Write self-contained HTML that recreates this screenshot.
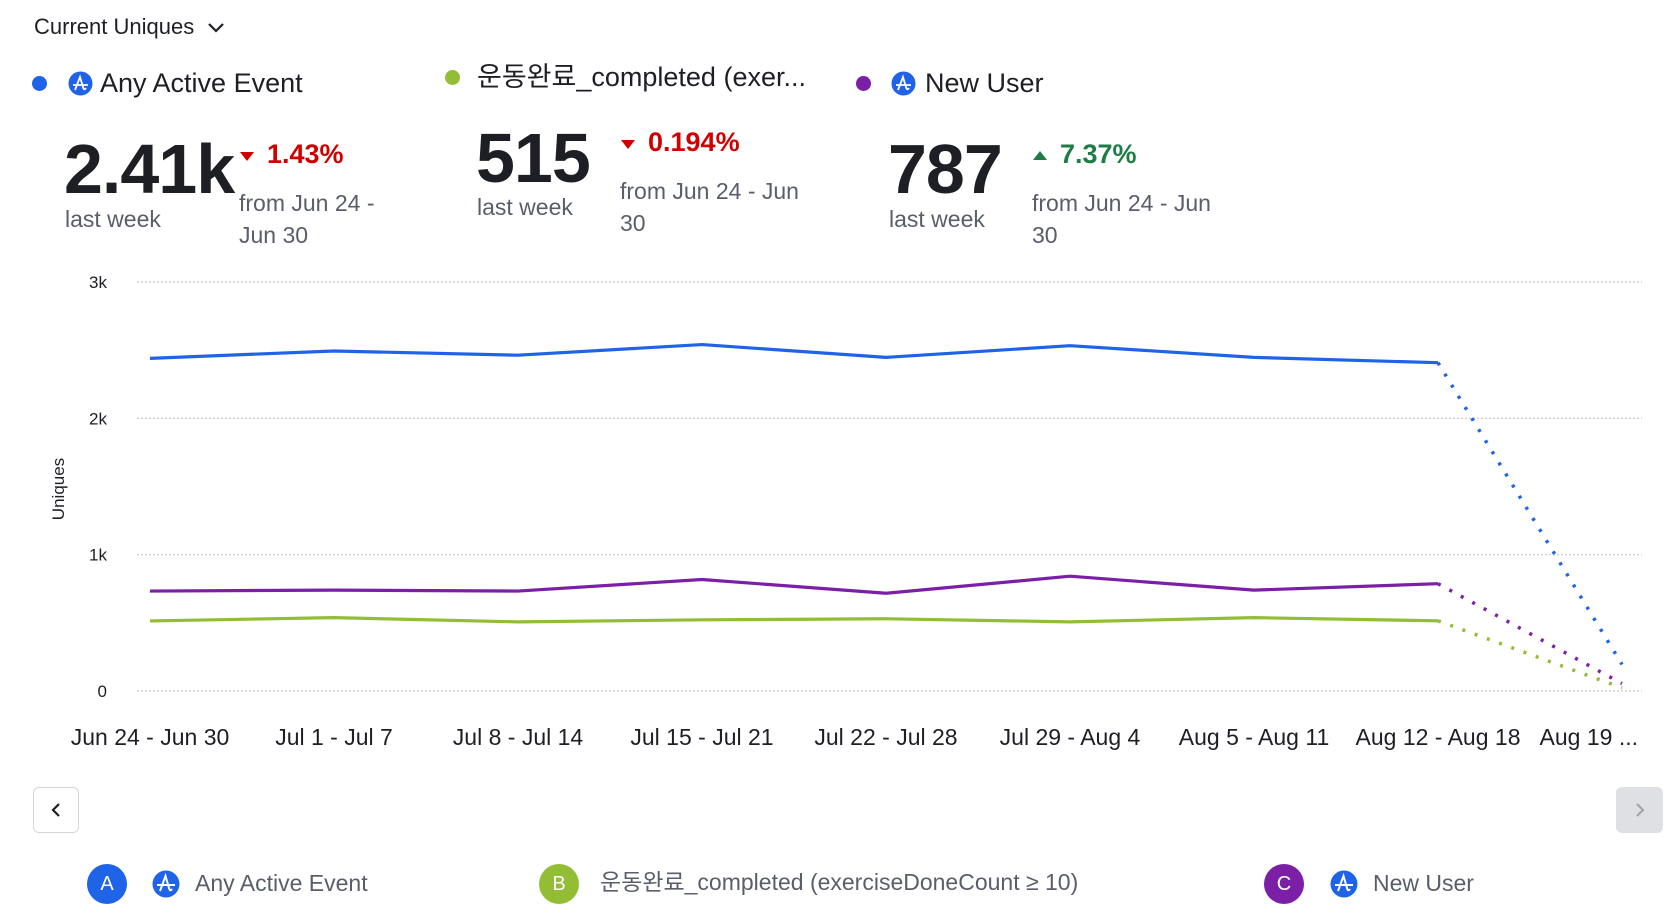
<!DOCTYPE html>
<html><head><meta charset="utf-8">
<style>
html,body{margin:0;padding:0;background:#fff;}
body{width:1666px;height:916px;position:relative;overflow:hidden;font-family:"Liberation Sans","Noto Sans CJK KR",sans-serif;color:#1e1f24;}
.a{position:absolute;white-space:nowrap;}
.dot{position:absolute;border-radius:50%;}
.big{font-size:70px;font-weight:bold;letter-spacing:-1px;line-height:1;}
.lw{font-size:23px;color:#5a5e6b;}
.from{font-size:23px;color:#5a5e6b;line-height:32px;}
.pct{font-size:27px;font-weight:bold;}
.tri{position:absolute;width:0;height:0;border-left:7px solid transparent;border-right:7px solid transparent;}
.leg{font-size:27px;color:#1e1f24;line-height:32px;height:32px;}
.bl{font-size:23px;color:#5a5e6b;line-height:28px;height:28px;}
.btn{position:absolute;border-radius:6px;box-sizing:border-box;}
</style></head><body>
<div class="a" style="left:34px;top:14px;font-size:22px;">Current Uniques <svg width="20" height="14" style="vertical-align:middle;margin-left:6px"><path d="M3 3 L10 10 L17 3" fill="none" stroke="#1e1f24" stroke-width="2.2"/></svg></div>

<!-- top legend -->
<div class="dot" style="left:32px;top:76px;width:15px;height:15px;background:#1f63e8"></div>
<svg class="a" style="left:68px;top:71px" width="25" height="25"><circle cx="12.5" cy="12.5" r="12" fill="#1f63e8"/><path d="M5 14 H20 M7 19 L12 6 L15 16 Q16 20 18 17" fill="none" stroke="#fff" stroke-width="1.8"/></svg>
<div class="a leg" style="left:100px;top:67px">Any Active Event</div>
<div class="dot" style="left:445px;top:70px;width:15px;height:15px;background:#93bd34"></div>
<div class="a leg" style="left:477px;top:61px">운동완료_completed (exer...</div>
<div class="dot" style="left:856px;top:76px;width:15px;height:15px;background:#7b1fa6"></div>
<svg class="a" style="left:891px;top:71px" width="25" height="25"><circle cx="12.5" cy="12.5" r="12" fill="#1f63e8"/><path d="M5 14 H20 M7 19 L12 6 L15 16 Q16 20 18 17" fill="none" stroke="#fff" stroke-width="1.8"/></svg>
<div class="a leg" style="left:925px;top:67px">New User</div>

<!-- cards -->
<div class="a big" style="left:64px;top:134px">2.41k</div>
<div class="a lw" style="left:65px;top:206px">last week</div>
<div class="tri" style="left:240px;top:152px;border-top:9px solid #d10000"></div>
<div class="a pct" style="left:267px;top:139px;color:#d10000">1.43%</div>
<div class="a from" style="left:239px;top:187px">from Jun 24 -<br>Jun 30</div>

<div class="a big" style="left:476px;top:123px">515</div>
<div class="a lw" style="left:477px;top:194px">last week</div>
<div class="tri" style="left:621px;top:140px;border-top:9px solid #d10000"></div>
<div class="a pct" style="left:648px;top:127px;color:#d10000">0.194%</div>
<div class="a from" style="left:620px;top:175px">from Jun 24 - Jun<br>30</div>

<div class="a big" style="left:888px;top:134px">787</div>
<div class="a lw" style="left:889px;top:206px">last week</div>
<div class="tri" style="left:1033px;top:151px;border-bottom:9px solid #1e7d46"></div>
<div class="a pct" style="left:1060px;top:139px;color:#1e7d46">7.37%</div>
<div class="a from" style="left:1032px;top:187px">from Jun 24 - Jun<br>30</div>

<svg id="chart" class="a" style="left:0;top:0" width="1666" height="916"></svg>

<div class="btn" style="left:33px;top:787px;width:46px;height:46px;border:1.5px solid #d4d6dc;background:#fff"><svg width="44" height="44"><path d="M25 16 L19 22 L25 28" fill="none" stroke="#1e1f24" stroke-width="2.2"/></svg></div>
<div class="btn" style="left:1616px;top:787px;width:47px;height:46px;background:#dfe0e4"><svg width="47" height="46"><path d="M21 17 L27 23 L21 29" fill="none" stroke="#a0a3ab" stroke-width="2"/></svg></div>

<!-- bottom legend -->
<div class="dot" style="left:87px;top:864px;width:40px;height:40px;background:#1f63e8;color:#fff;font-size:20px;text-align:center;line-height:40px">A</div>
<svg class="a" style="left:152px;top:870px" width="28" height="28"><circle cx="14" cy="14" r="13.5" fill="#1f63e8"/><path d="M5 15 H23 M8 21 L13.5 6 L17 18 Q18 22 20 19" fill="none" stroke="#fff" stroke-width="2"/></svg>
<div class="a bl" style="left:195px;top:869px">Any Active Event</div>
<div class="dot" style="left:539px;top:864px;width:40px;height:40px;background:#93bd34;color:#fff;font-size:20px;text-align:center;line-height:40px">B</div>
<div class="a bl" style="left:600px;top:868px">운동완료_completed (exerciseDoneCount ≥ 10)</div>
<div class="dot" style="left:1264px;top:864px;width:40px;height:40px;background:#7b1fa6;color:#fff;font-size:20px;text-align:center;line-height:40px">C</div>
<svg class="a" style="left:1330px;top:870px" width="28" height="28"><circle cx="14" cy="14" r="13.5" fill="#1f63e8"/><path d="M5 15 H23 M8 21 L13.5 6 L17 18 Q18 22 20 19" fill="none" stroke="#fff" stroke-width="2"/></svg>
<div class="a bl" style="left:1373px;top:869px">New User</div>

<script>
const categories = ["Jun 24 - Jun 30","Jul 1 - Jul 7","Jul 8 - Jul 14","Jul 15 - Jul 21","Jul 22 - Jul 28","Jul 29 - Aug 4","Aug 5 - Aug 11","Aug 12 - Aug 18","Aug 19 ..."];
const anyActive = [2440,2494,2463,2541,2447,2533,2447,2408,195];
const completed = [514,538,507,522,530,507,538,515,23];
const newUser = [733,740,733,818,717,842,740,787,55];
const yTicks = [0,1000,2000,3000];
const yTickLabels = ["0","1k","2k","3k"];

const NS="http://www.w3.org/2000/svg";
const svg=document.getElementById('chart');
const x0=150, xStep=184.0, yTop=282, yBot=691, yMax=3000;
const xs=i=>x0+i*xStep;
const ys=v=>yBot-(v/yMax)*(yBot-yTop);
function mk(tag,attrs){const e=document.createElementNS(NS,tag);for(const k in attrs)e.setAttribute(k,attrs[k]);svg.appendChild(e);return e;}

yTicks.forEach((t,i)=>{
  const g=mk('line',{x1:137,x2:1642,y1:ys(t),y2:ys(t),stroke:'#c4c6cc','stroke-width':1.2,'stroke-dasharray':'2 2'});
  
  
  const tx=mk('text',{x:107,y:ys(t)+6,'text-anchor':'end','font-size':17,fill:'#1e1f24','font-family':'Liberation Sans, sans-serif'});
  tx.textContent=yTickLabels[i];
  
  
});
const yt=mk('text',{x:0,y:0,transform:'translate(64,489) rotate(-90)','text-anchor':'middle','font-size':17,fill:'#1e1f24','font-family':'Liberation Sans, sans-serif'});
yt.textContent='Uniques';



categories.forEach((c,i)=>{
  const last=i===categories.length-1;
  const tx=mk('text',{x:last?1638:xs(i),y:745,'text-anchor':last?'end':'middle','font-size':23,fill:'#1e1f24','font-family':'Liberation Sans, sans-serif'});
  tx.textContent=c;
  
  
});

function series(vals,color,name){
  const n=vals.length;
  const solid=vals.slice(0,n-1).map((v,i)=>xs(i)+','+ys(v)).join(' ');
  const p=mk('polyline',{points:solid,fill:'none',stroke:color,'stroke-width':3.2,'stroke-linejoin':'round'});
  
  
  const d=mk('line',{x1:xs(n-2),y1:ys(vals[n-2]),x2:xs(n-1),y2:ys(vals[n-1]),stroke:color,'stroke-width':3.5,'stroke-dasharray':'3 10','stroke-linecap':'butt'});
  
  
}
series(completed,'#93bd34','completed');
series(newUser,'#7b1fa6','new-user');
series(anyActive,'#1f63e8','any-active-event');
</script>
</body></html>
